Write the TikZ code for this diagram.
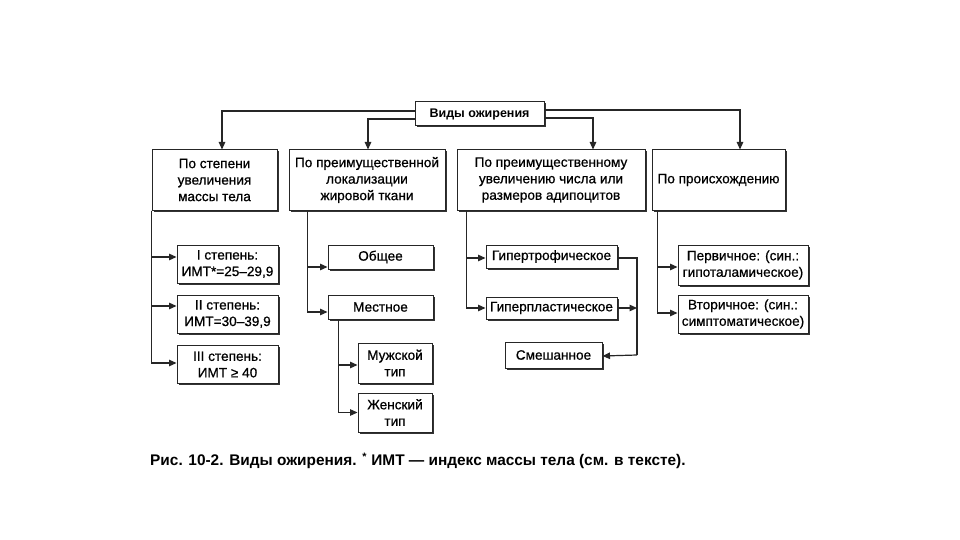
\documentclass[tikz,border=0pt]{standalone}
\usepackage{fontspec}
\setmainfont{Liberation Sans}
\newfontfamily\boxfont[FakeBold=0.7]{Liberation Sans}
\usetikzlibrary{arrows.meta,shadows}
\begin{document}
\begin{tikzpicture}[x=1pt,y=-1pt,
  bx/.style={draw=black!85,line width=1pt,fill=white,inner sep=0pt,align=center,
    font=\boxfont\fontsize{13.6}{16.5}\selectfont,
    drop shadow={shadow xshift=1.5pt,shadow yshift=-1.5pt,fill=black!80,opacity=1}},
  ln/.style={line width=1.2pt,black!85},
  arr/.style={ln,-{Triangle[length=7.5pt,width=6.5pt]}}]
\useasboundingbox (0,0) rectangle (960,540);
\fill[white] (0,0) rectangle (960,540);
% top
\node[bx,minimum width=129,minimum height=24,font=\fontsize{12.5}{15}\selectfont\bfseries] (top) at (479.5,114) {Виды ожирения};
% level 1
\node[bx,minimum width=125,minimum height=60] (b1) at (214.5,180) {По степени\\увеличения\\массы тела};
\node[bx,minimum width=156,minimum height=60] (b2) at (367,180) {По преимущественной\\локализации\\жировой ткани};
\node[bx,minimum width=188,minimum height=60] (b3) at (551,180) {По преимущественному\\увеличению числа или\\размеров адипоцитов};
\node[bx,minimum width=133,minimum height=60] (b4) at (718.5,180) {По происхождению};
% connectors from top
\draw[arr] ([yshift=3pt]top.west) -| ([xshift=7.5pt]b1.north);
\draw[arr] ([yshift=-5pt]top.west) -| ([xshift=1pt]b2.north);
\draw[arr] ([yshift=4pt]top.east) -| ([xshift=21.5pt]b4.north);
\draw[arr] ([yshift=-4pt]top.east) -| ([xshift=42pt]b3.north);
% b1 children
\node[bx,minimum width=101,minimum height=38] (s1) at (227.5,264) {I степень:\\ИМТ*=25–29,9};
\node[bx,minimum width=101,minimum height=38] (s2) at (227.5,314) {II степень:\\ИМТ=30–39,9};
\node[bx,minimum width=101,minimum height=38] (s3) at (227.5,364.5) {III степень:\\ИМТ ≥ 40};
\draw[arr] (b1.south west) |- ([yshift=7pt]s1.west);
\draw[arr] (b1.south west) |- ([yshift=8pt]s2.west);
\draw[arr] (b1.south west) |- ([yshift=1.5pt]s3.west);
% b2 children
\node[bx,minimum width=105,minimum height=24] (l1) at (380.5,257) {Общее};
\node[bx,minimum width=105,minimum height=24] (l2) at (380.5,307) {Местное};
\draw[arr] ([xshift=19pt]b2.south west) |- ([yshift=-10pt]l1.west);
\draw[arr] ([xshift=19pt]b2.south west) |- ([yshift=-5pt]l2.west);
\node[bx,minimum width=74,minimum height=40] (m1) at (395,363) {Мужской\\тип};
\node[bx,minimum width=74,minimum height=39] (m2) at (395,412.5) {Женский\\тип};
\draw[arr] ([xshift=11pt]l2.south west) |- ([yshift=-2pt]m1.west);
\draw[arr] ([xshift=11pt]l2.south west) |- (m2.west);
% b3 children
\node[bx,minimum width=131,minimum height=23] (g1) at (551.5,256.5) {Гипертрофическое};
\node[bx,minimum width=131,minimum height=22] (g2) at (551.5,308) {Гиперпластическое};
\node[bx,minimum width=97,minimum height=26] (g3) at (553.5,355) {Смешанное};
\draw[arr] ([xshift=10pt]b3.south west) |- ([yshift=-1.5pt]g1.west);
\draw[arr] ([xshift=10pt]b3.south west) |- (g2.west);
\coordinate (br) at (637,308);
\draw[ln] ([yshift=-1.5pt]g1.east) -| (br);
\draw[ln] (br) -- (br |- g3.east);
\draw[arr] (br |- g3.east) -- ([yshift=-1pt]g3.east);
\draw[arr] (g2.east) -- (br);
% b4 children
\node[bx,minimum width=130,minimum height=40] (p1) at (743,265) {Первичное: (син.:\\гипоталамическое)};
\node[bx,minimum width=130,minimum height=38] (p2) at (743,314) {Вторичное: (син.:\\симптоматическое)};
\draw[arr] ([xshift=6pt]b4.south west) |- ([yshift=-2pt]p1.west);
\draw[arr] ([xshift=6pt]b4.south west) |- ([yshift=1pt]p2.west);
% caption
\node[anchor=west,inner sep=0pt,font=\fontsize{15.4}{18}\selectfont\bfseries] (cap) at (150,461) {Рис. 10-2. Виды ожирения. \textsuperscript{*} ИМТ — индекс массы тела (см. в тексте).};
\end{tikzpicture}
\end{document}
